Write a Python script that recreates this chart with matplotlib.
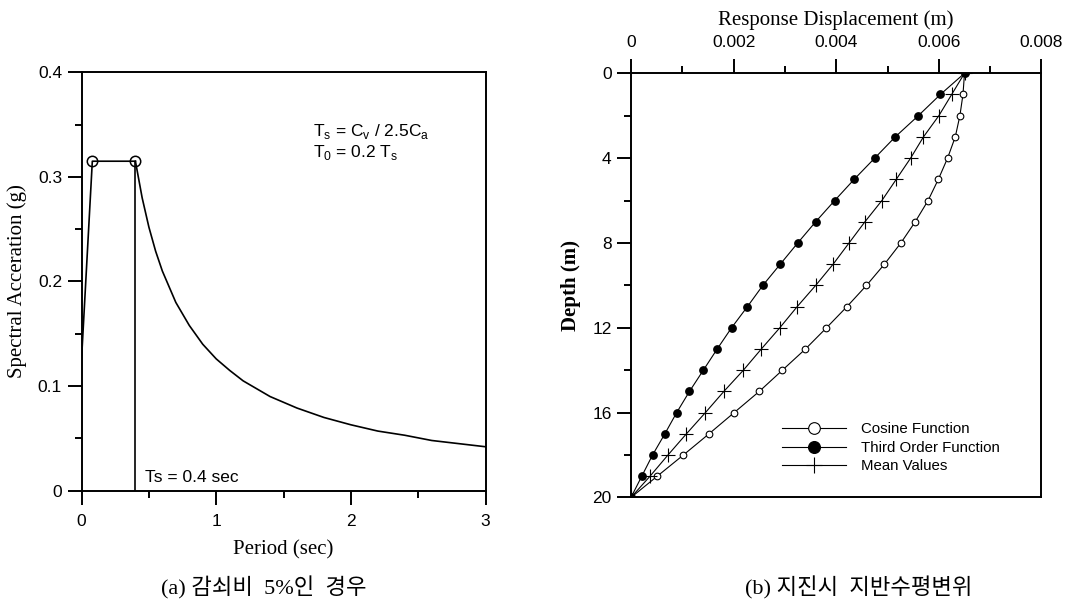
import numpy as np
import matplotlib
matplotlib.use('Agg')
import matplotlib.pyplot as plt
from matplotlib.lines import Line2D
from matplotlib.ticker import MultipleLocator

# design spectrum (5% damping)
T0 = 0.08
Ts = 0.4
Sa0 = 0.126
Sa_peak = 0.315
T_tail = [0.4, 0.45, 0.5, 0.55, 0.6, 0.7, 0.8, 0.9, 1.0, 1.1, 1.2, 1.4,
          1.6, 1.8, 2.0, 2.2, 2.4, 2.6, 2.8, 3.0]
Sa_tail = [0.315, 0.280, 0.252, 0.229, 0.210, 0.180, 0.158, 0.140, 0.126,
           0.115, 0.105, 0.090, 0.079, 0.070, 0.063, 0.057, 0.053, 0.048,
           0.045, 0.042]

# ground displacement vs depth (m)
depth = list(range(21))
disp_cos = [0.00650, 0.00647, 0.00641, 0.00632, 0.00617, 0.00599, 0.00579,
            0.00554, 0.00526, 0.00494, 0.00459, 0.00421, 0.00381, 0.00340,
            0.00295, 0.00250, 0.00201, 0.00152, 0.00102, 0.00051, 0.0]
disp_3rd = [0.00650, 0.00603, 0.00560, 0.00515, 0.00475, 0.00435, 0.00397,
            0.00360, 0.00325, 0.00291, 0.00257, 0.00227, 0.00196, 0.00168,
            0.00141, 0.00114, 0.00089, 0.00066, 0.00042, 0.00021, 0.0]
disp_mean = [0.00650, 0.00625, 0.00600, 0.00570, 0.00545, 0.00517, 0.00489,
             0.00456, 0.00425, 0.00394, 0.00360, 0.00324, 0.00290, 0.00254,
             0.00219, 0.00181, 0.00145, 0.00108, 0.00072, 0.00037, 0.0]

plt.rcParams['font.family'] = 'Liberation Sans'
plt.rcParams['mathtext.fontset'] = 'custom'
plt.rcParams['mathtext.rm'] = 'Liberation Sans'

serif = {'family': 'Liberation Serif', 'size': 15}
caption_font = ['Liberation Serif', 'Noto Sans CJK KR']

fig = plt.figure(figsize=(10.66, 6.02), dpi=100)
ax1 = fig.add_axes([0.0765, 0.1849, 0.379, 0.695])
ax2 = fig.add_axes([0.5919, 0.1736, 0.3851, 0.7047])

def style_axes(ax):
    for s in ax.spines.values():
        s.set_linewidth(1.4)
    ax.tick_params(which='major', direction='out', length=10, width=1.4, labelsize=12.5)
    ax.tick_params(which='minor', direction='out', length=5, width=1.4)
    ax.tick_params(axis='x', pad=7)
    ax.tick_params(axis='y', pad=4)

# ---- (a) response spectrum
ax1.plot([0, T0, Ts], [Sa0, Sa_peak, Sa_peak], color='k', lw=1.2)
ax1.plot(T_tail, Sa_tail, color='k', lw=1.2)
ax1.plot([T0, Ts], [Sa_peak, Sa_peak], 'o', mfc='none', mec='k', ms=7.5, mew=1.1)
ax1.vlines(Ts, 0, Sa_peak, color='k', lw=1.2, clip_on=False)
ax1.set_xlim(0, 3)
ax1.set_ylim(0, 0.4)
ax1.xaxis.set_major_locator(MultipleLocator(1))
ax1.xaxis.set_minor_locator(MultipleLocator(0.5))
ax1.yaxis.set_major_locator(MultipleLocator(0.1))
ax1.yaxis.set_minor_locator(MultipleLocator(0.05))
ax1.set_xticklabels(['', '0', '1', '2', '3'])
ax1.set_yticklabels(['', '0', '0.1', '0.2', '0.3', '0.4'])
style_axes(ax1)
ax1.set_xlabel('Period (sec)', fontdict=serif, labelpad=8)
ax1.set_ylabel('Spectral Acceration (g)', fontdict=serif, labelpad=8)

ax1.text(1.72, 0.3395, r'T$_\mathregular{s}$ = C$_\mathregular{v}$ / 2.5C$_\mathregular{a}$',
         fontsize=12.5, va='baseline')
ax1.text(1.72, 0.3195, r'T$_\mathregular{0}$ = 0.2 T$_\mathregular{s}$',
         fontsize=12.5, va='baseline')
ax1.text(0.47, 0.0086, 'Ts = 0.4 sec', fontsize=12.5, va='baseline')

# ---- (b) displacement profiles
ax2.plot(disp_cos, depth, '-o', color='k', lw=0.8, mfc='white', mec='k', ms=4.8, mew=0.8)
ax2.plot(disp_3rd, depth, '-o', color='k', lw=0.8, mfc='k', mec='k', ms=5.3)
ax2.plot(disp_mean, depth, '-+', color='k', lw=0.8, ms=9.5, mew=0.8)
ax2.set_xlim(0, 0.008)
ax2.set_ylim(20, 0)
ax2.xaxis.set_major_locator(MultipleLocator(0.002))
ax2.xaxis.set_minor_locator(MultipleLocator(0.001))
ax2.yaxis.set_major_locator(MultipleLocator(4))
ax2.yaxis.set_minor_locator(MultipleLocator(2))
ax2.xaxis.tick_top()
ax2.xaxis.set_label_position('top')
ax2.set_xticks([0, 0.002, 0.004, 0.006, 0.008])
ax2.set_xticklabels(['0', '0.002', '0.004', '0.006', '0.008'])
style_axes(ax2)
ax2.set_xlabel('Response Displacement (m)', fontdict=serif, labelpad=7)
ax2.set_ylabel('Depth (m)', fontdict=serif, fontweight='bold', labelpad=8)

handles = [
    Line2D([], [], color='k', lw=0.8, marker='o', mfc='white', mec='k', ms=8.4, mew=0.8),
    Line2D([], [], color='k', lw=0.8, marker='o', mfc='k', mec='k', ms=8.4),
    Line2D([], [], color='k', lw=0.8, marker='+', ms=11, mew=0.8),
]
labels = ['Cosine Function', 'Third Order Function', 'Mean Values']
ax2.legend(handles, labels, loc='center left', bbox_to_anchor=(0.368, 0.117),
           frameon=False, fontsize=10.8, handlelength=4.25, handletextpad=1.0,
           labelspacing=0.3, borderpad=0, borderaxespad=0)

# captions
fig.text(263.5 / 1066, 1 - 588 / 602, '(a) 감쇠비  5%인  경우', family=caption_font,
         fontsize=16, ha='center', va='center')
fig.text(858.5 / 1066, 1 - 588 / 602, '(b) 지진시  지반수평변위', family=caption_font,
         fontsize=16, ha='center', va='center')

fig.savefig('out.png', dpi=100)
